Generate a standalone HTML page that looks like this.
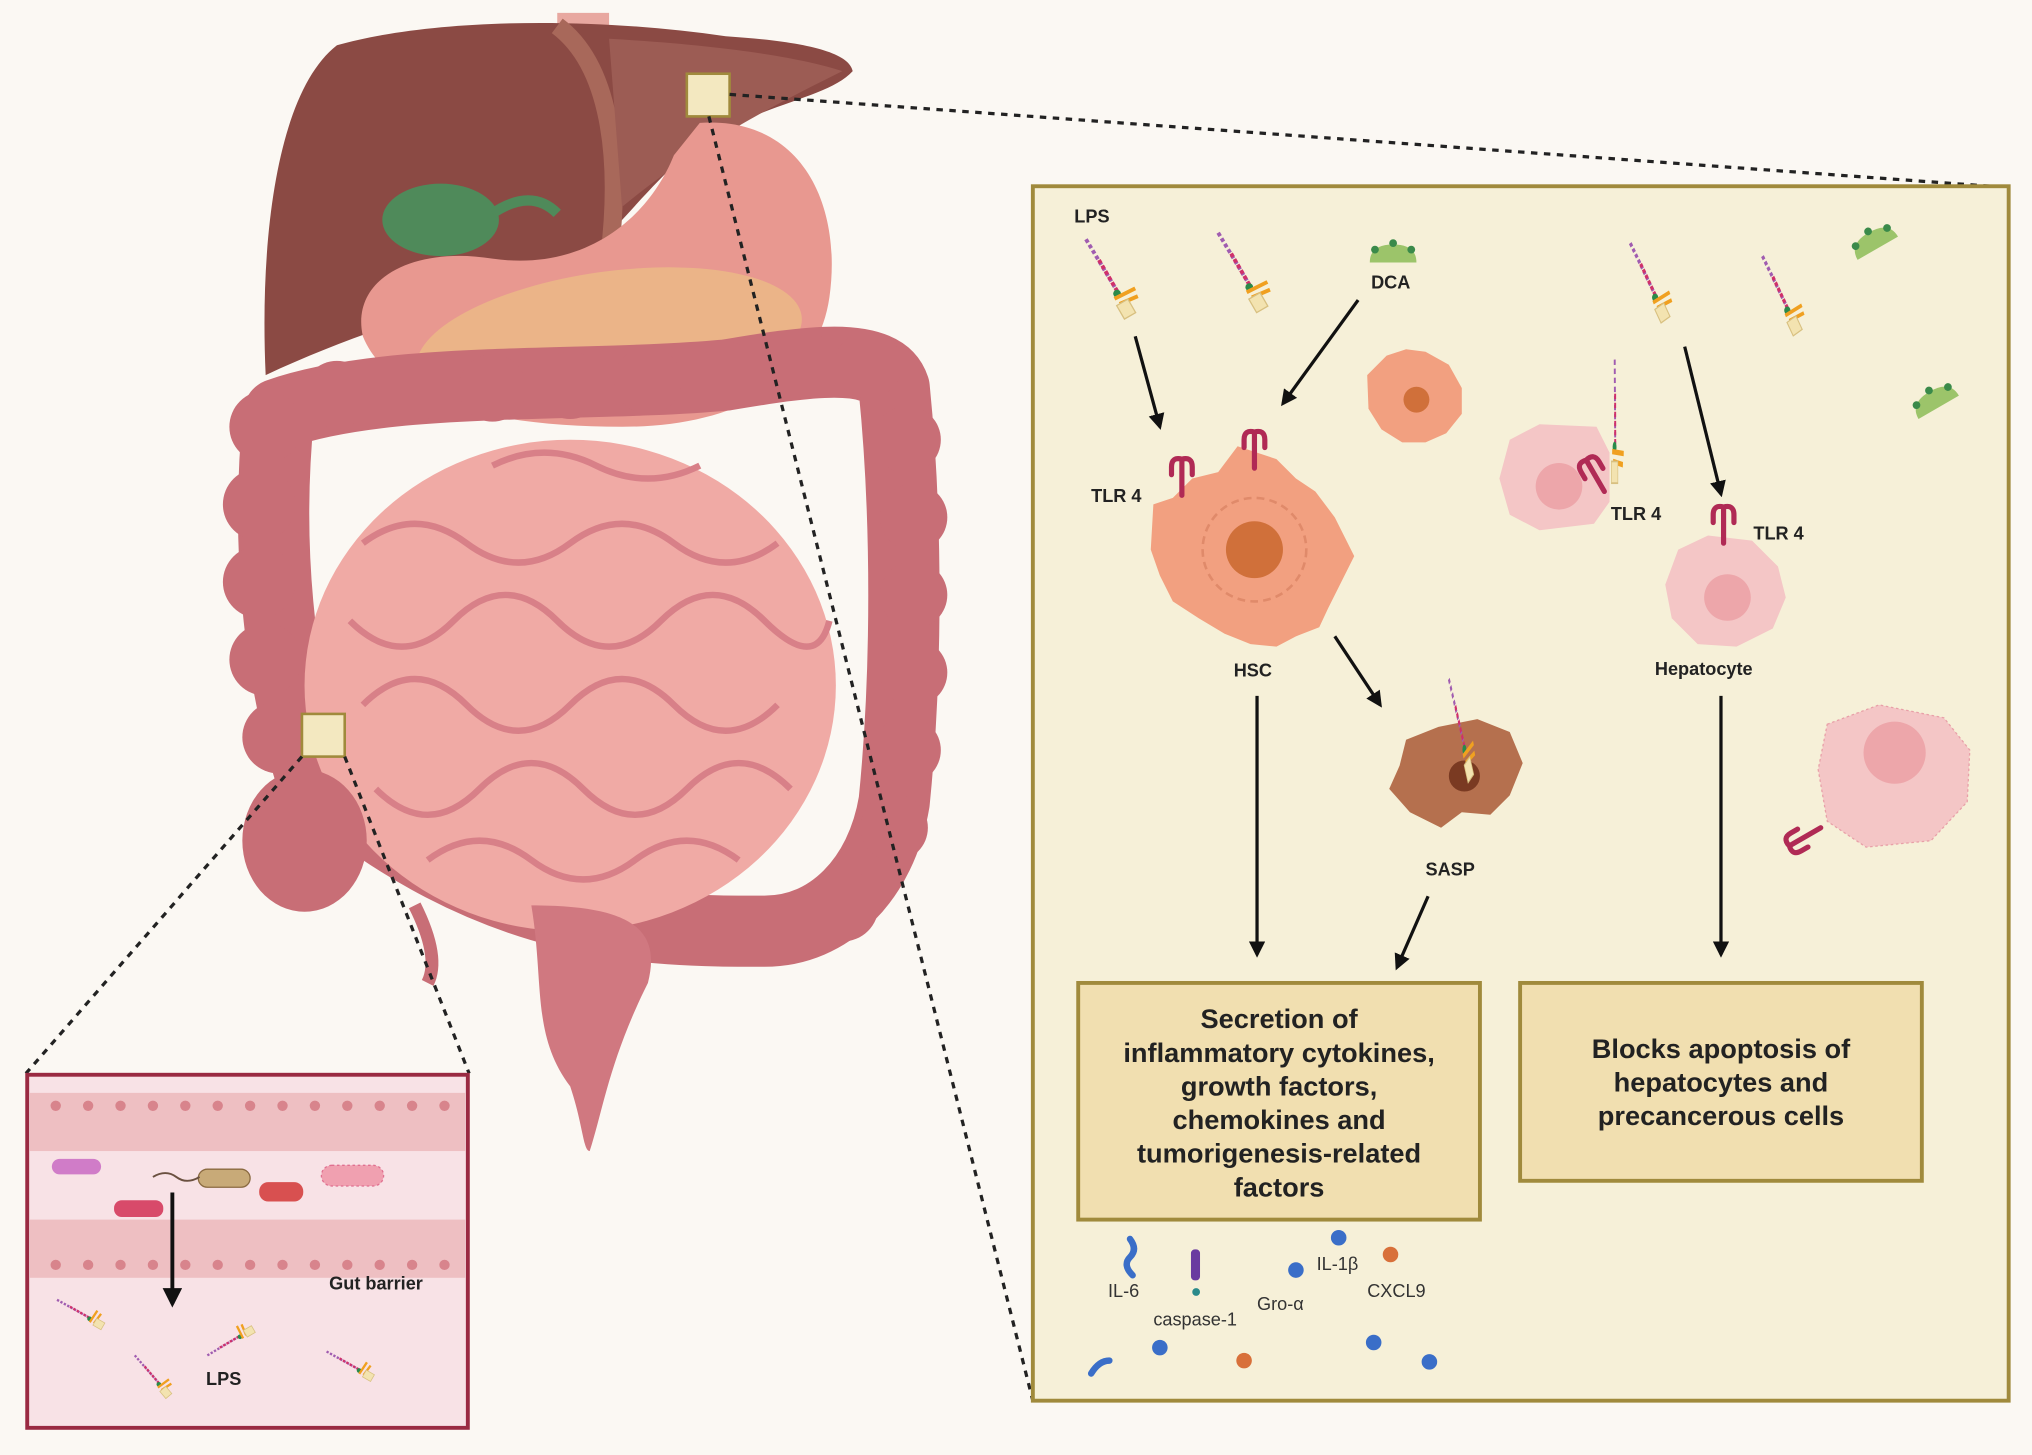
<!DOCTYPE html>
<html><head><meta charset="utf-8"><style>
html,body{margin:0;padding:0;background:#fbf8f3;}
svg{display:block}
text{font-family:"Liberation Sans",sans-serif;}
</style></head><body>
<svg width="2032" height="1455" viewBox="0 0 1568 1125" preserveAspectRatio="none" xmlns="http://www.w3.org/2000/svg">
<defs>
<marker id="ah" viewBox="0 0 10 10" refX="8" refY="5" markerWidth="5" markerHeight="5" orient="auto"><path d="M0,0 L10,5 L0,10 z" fill="#111"/></marker>
<g id="lps"><line x1="0" y1="0" x2="24" y2="40" stroke="#a05cb0" stroke-width="3" stroke-dasharray="3,2"/><line x1="10" y1="16" x2="24" y2="40" stroke="#d0306a" stroke-width="3" stroke-dasharray="3,2"/><circle cx="24" cy="42" r="3" fill="#2a8a4a"/><path d="M22,46 l16,-8 M26,50 l14,-6" stroke="#f0a020" stroke-width="3"/><rect x="26" y="48" width="10" height="12" fill="#f3e3b0" stroke="#d8c080" transform="rotate(-30 31 54)"/></g>
<g id="tlr"><path d="M0,0 v-16 M-8,-22 q0,-8 8,-6 q8,-2 8,6 M-8,-22 v6 M8,-22 v6 M0,-28 v12" stroke="#b02a55" stroke-width="4" fill="none" stroke-linecap="round"/></g>
<g id="dca"><path d="M-18,8 q0,-14 18,-14 q18,0 18,14 z" fill="#9cc46a"/><circle cx="-14" cy="-2" r="3" fill="#3a8a4a"/><circle cx="0" cy="-7" r="3" fill="#3a8a4a"/><circle cx="14" cy="-2" r="3" fill="#3a8a4a"/></g>
</defs>
<rect width="1568" height="1125" fill="#fbf8f3"/>

<!-- anatomy -->
<path d="M430,10 h40 v40 h-40z" fill="#e8a8a0"/>
<path d="M205,290 C200,180 215,70 260,35 C330,15 450,12 560,28 C620,32 655,40 658,55 C640,75 590,80 540,110 C480,160 460,210 400,225 C330,240 270,260 205,290z" fill="#8b4a44"/>
<path d="M430,20 C470,50 480,120 470,200" stroke="#a8685a" stroke-width="14" fill="none"/>
<path d="M470,30 C560,35 620,45 650,55 C600,80 540,110 480,160z" fill="#9c5c54"/>
<ellipse cx="340" cy="170" rx="45" ry="28" fill="#4f8a5a"/>
<path d="M380,165 q30,-20 50,0" stroke="#4f8a5a" stroke-width="8" fill="none"/>
<path d="M540,95 C620,90 650,160 640,230 C630,300 560,330 480,330 C380,330 300,310 280,260 C270,215 320,190 380,200 C450,210 500,170 520,120z" fill="#e89890"/>
<ellipse cx="470" cy="265" rx="150" ry="55" fill="#ebb488" transform="rotate(-8 470 265)"/>
<path d="M240,600 C215,520 205,420 215,320 C300,290 450,300 560,290 C620,280 680,270 690,300 C700,400 700,520 690,620 C680,680 640,720 590,720 C500,720 380,720 240,600z" fill="none" stroke="#c86e76" stroke-width="55" stroke-linejoin="round"/>
<g fill="#c86e76">
<circle cx="205" cy="330" r="28"/><circle cx="200" cy="390" r="28"/><circle cx="200" cy="450" r="28"/><circle cx="205" cy="510" r="28"/><circle cx="215" cy="570" r="28"/>
<circle cx="260" cy="305" r="26"/><circle cx="320" cy="300" r="26"/><circle cx="380" cy="300" r="26"/><circle cx="440" cy="298" r="26"/><circle cx="500" cy="294" r="26"/><circle cx="560" cy="290" r="26"/><circle cx="620" cy="282" r="26"/><circle cx="670" cy="282" r="26"/>
<circle cx="700" cy="340" r="26"/><circle cx="705" cy="400" r="26"/><circle cx="705" cy="460" r="26"/><circle cx="705" cy="520" r="26"/><circle cx="700" cy="580" r="26"/><circle cx="690" cy="640" r="26"/><circle cx="650" cy="700" r="28"/>
</g>
<ellipse cx="440" cy="530" rx="205" ry="190" fill="#f0aaa5"/>
<g stroke="#d88088" stroke-width="5" fill="none">
<path d="M280,420 q40,-30 80,0 t80,0 t80,0 t80,0"/>
<path d="M270,480 q40,40 80,0 t80,0 t80,0 t80,0 t50,0"/>
<path d="M280,545 q40,-40 80,0 t80,0 t80,0 t80,0"/>
<path d="M290,610 q40,40 80,0 t80,0 t80,0 t80,0"/>
<path d="M330,665 q40,-30 80,0 t80,0 t80,0"/>
<path d="M380,360 q40,-20 80,0 t80,0"/>
</g>
<path d="M410,700 C420,760 410,800 440,840 C450,870 450,890 455,890 C465,860 470,820 500,760 C510,720 490,700 410,700z" fill="#d07880"/>
<path d="M320,700 q20,40 10,60" stroke="#c86e76" stroke-width="10" fill="none"/>
<ellipse cx="235" cy="650" rx="48" ry="55" fill="#c86e76"/>

<!-- markers on anatomy -->
<rect x="530" y="57" width="33" height="33" fill="#f3e8c0" stroke="#a08a3c" stroke-width="2"/>
<rect x="233" y="552" width="33" height="33" fill="#f3e8c0" stroke="#a08a3c" stroke-width="2"/>
<g stroke="#222" stroke-width="2.5" stroke-dasharray="5,5" fill="none">
<line x1="563" y1="73" x2="1550" y2="145"/>
<line x1="547" y1="90" x2="797" y2="1083"/>
<line x1="233" y1="585" x2="20" y2="830"/>
<line x1="266" y1="585" x2="362" y2="830"/>
</g>

<!-- left inset -->
<rect x="21" y="831" width="340" height="273" fill="#f8e2e6" stroke="#9a2a42" stroke-width="3"/>
<rect x="23" y="845" width="336" height="45" fill="#eebfc2"/>
<rect x="23" y="943" width="336" height="45" fill="#eebfc2"/>
<g fill="#d8848c">
<circle cx="43" cy="855" r="4"/><circle cx="68" cy="855" r="4"/><circle cx="93" cy="855" r="4"/><circle cx="118" cy="855" r="4"/><circle cx="143" cy="855" r="4"/><circle cx="168" cy="855" r="4"/><circle cx="193" cy="855" r="4"/><circle cx="218" cy="855" r="4"/><circle cx="243" cy="855" r="4"/><circle cx="268" cy="855" r="4"/><circle cx="293" cy="855" r="4"/><circle cx="318" cy="855" r="4"/><circle cx="343" cy="855" r="4"/>
<circle cx="43" cy="978" r="4"/><circle cx="68" cy="978" r="4"/><circle cx="93" cy="978" r="4"/><circle cx="118" cy="978" r="4"/><circle cx="143" cy="978" r="4"/><circle cx="168" cy="978" r="4"/><circle cx="193" cy="978" r="4"/><circle cx="218" cy="978" r="4"/><circle cx="243" cy="978" r="4"/><circle cx="268" cy="978" r="4"/><circle cx="293" cy="978" r="4"/><circle cx="318" cy="978" r="4"/><circle cx="343" cy="978" r="4"/>
</g>
<rect x="40" y="896" width="38" height="12" rx="6" fill="#d07cc8"/>
<rect x="88" y="928" width="38" height="13" rx="6" fill="#d84a6a"/>
<rect x="153" y="904" width="40" height="14" rx="7" fill="#c8aa78" stroke="#8a6a40"/>
<path d="M118,910 q10,-6 18,0 t18,0" stroke="#6a5040" fill="none" stroke-width="1.5"/>
<rect x="200" y="914" width="34" height="15" rx="7" fill="#d85050"/>
<rect x="248" y="901" width="48" height="16" rx="8" fill="#f0a0b0" stroke="#e07090" stroke-dasharray="2,2"/>
<line x1="133" y1="922" x2="133" y2="1008" stroke="#111" stroke-width="3" marker-end="url(#ah)"/>
<text x="254" y="997" font-size="14" font-weight="bold" fill="#222">Gut barrier</text>
<text x="159" y="1071" font-size="14" font-weight="bold" fill="#222">LPS</text>
<g transform="translate(44,1005) rotate(-30) scale(0.6)"><use href="#lps"/></g>
<g transform="translate(104,1048) rotate(-10) scale(0.6)"><use href="#lps"/></g>
<g transform="translate(160,1048) rotate(-90) scale(0.6)"><use href="#lps"/></g>
<g transform="translate(252,1045) rotate(-30) scale(0.6)"><use href="#lps"/></g>

<!-- right panel -->
<rect x="797" y="144" width="753" height="939" fill="#f6f0d8" stroke="#a08a3c" stroke-width="3"/>
<text x="829" y="172" font-size="14" font-weight="bold" fill="#222">LPS</text>
<g transform="translate(838,185)"><use href="#lps"/></g>
<g transform="translate(940,180)"><use href="#lps"/></g>
<g transform="translate(1258,188) scale(0.8,1)"><use href="#lps"/></g>
<g transform="translate(1360,198) scale(0.8,1)"><use href="#lps"/></g>
<g transform="translate(1075,195)"><use href="#dca"/></g>
<text x="1058" y="223" font-size="14" font-weight="bold" fill="#222">DCA</text>
<g transform="translate(1445,185) rotate(-30)"><use href="#dca"/></g>
<g transform="translate(1492,308) rotate(-30)"><use href="#dca"/></g>

<g stroke="#111" stroke-width="2.5" fill="none" marker-end="url(#ah)">
<line x1="876" y1="260" x2="895" y2="330"/>
<line x1="1048" y1="232" x2="990" y2="312"/>
<line x1="1300" y1="268" x2="1328" y2="382"/>
<line x1="1030" y1="492" x2="1065" y2="545"/>
<line x1="970" y1="538" x2="970" y2="738"/>
<line x1="1102" y1="693" x2="1078" y2="748"/>
<line x1="1328" y1="538" x2="1328" y2="738"/>
</g>

<path d="M890,390 L905,385 L920,370 L940,365 L955,345 L985,355 L1000,370 L1015,380 L1030,400 L1045,430 L1035,450 L1025,470 L1018,485 L1000,492 L985,500 L965,498 L945,490 L925,478 L905,465 L895,445 L888,425z" fill="#f2a080"/>
<circle cx="968" cy="425" r="40" fill="none" stroke="#e08a6a" stroke-width="2" stroke-dasharray="6,4"/>
<circle cx="968" cy="425" r="22" fill="#d0703a"/>
<g transform="translate(912,383)"><use href="#tlr"/></g>
<g transform="translate(968,362)"><use href="#tlr"/></g>
<text x="842" y="388" font-size="14" font-weight="bold" fill="#222">TLR 4</text>
<text x="952" y="523" font-size="14" font-weight="bold" fill="#222">HSC</text>
<path d="M1055,290 L1070,275 L1085,270 L1100,272 L1118,282 L1128,300 L1128,320 L1116,335 L1100,342 L1082,342 L1066,332 L1056,316z" fill="#f2a080"/>
<circle cx="1093" cy="309" r="10" fill="#d0703a"/>
<path d="M1165,340 L1188,328 L1232,330 L1242,350 L1242,388 L1230,405 L1188,410 L1165,398 L1157,370z" fill="#f4c6c6"/>
<circle cx="1203" cy="376" r="18" fill="#eda6aa"/>
<g transform="translate(1238,380) rotate(-30)"><use href="#tlr"/></g>
<g transform="translate(1246,278) scale(0.5,1.4) rotate(30)"><use href="#lps"/></g>
<text x="1243" y="402" font-size="14" font-weight="bold" fill="#222">TLR 4</text>
<path d="M1295,425 L1318,414 L1352,418 L1372,438 L1378,462 L1368,486 L1340,500 L1310,498 L1290,478 L1285,452z" fill="#f4c6c6"/>
<circle cx="1333" cy="462" r="18" fill="#eda6aa"/>
<g transform="translate(1330,420)"><use href="#tlr"/></g>
<text x="1353" y="417" font-size="14" font-weight="bold" fill="#222">TLR 4</text>
<text x="1277" y="522" font-size="14" font-weight="bold" fill="#222">Hepatocyte</text>
<path d="M1410,560 L1450,545 L1500,555 L1520,580 L1518,620 L1490,650 L1440,655 L1410,635 L1403,595z" fill="#f4c6c6" stroke="#e8a0a8" stroke-dasharray="2,2"/>
<circle cx="1462" cy="582" r="24" fill="#eda6aa"/>
<g transform="translate(1405,640) rotate(-120)"><use href="#tlr"/></g>
<path d="M1085,572 L1110,562 L1140,556 L1165,566 L1175,590 L1165,615 L1150,630 L1128,628 L1112,640 L1088,628 L1072,610 L1080,592z" fill="#b5704e"/>
<circle cx="1130" cy="600" r="12" fill="#7a3a22"/>
<g transform="translate(1118,525) scale(0.5,1.3)"><use href="#lps"/></g>
<text x="1100" y="677" font-size="14" font-weight="bold" fill="#222">SASP</text>

<rect x="832" y="760" width="310" height="183" fill="#f1dfb0" stroke="#a08a3c" stroke-width="3"/>
<g font-size="21" font-weight="bold" fill="#222" text-anchor="middle">
<text x="987" y="795">Secretion of</text>
<text x="987" y="821">inflammatory cytokines,</text>
<text x="987" y="847">growth factors,</text>
<text x="987" y="873">chemokines and</text>
<text x="987" y="899">tumorigenesis-related</text>
<text x="987" y="925">factors</text>
</g>
<rect x="1173" y="760" width="310" height="153" fill="#f1dfb0" stroke="#a08a3c" stroke-width="3"/>
<g font-size="21" font-weight="bold" fill="#222" text-anchor="middle">
<text x="1328" y="818">Blocks apoptosis of</text>
<text x="1328" y="844">hepatocytes and</text>
<text x="1328" y="870">precancerous cells</text>
</g>

<g font-size="14" fill="#333">
<text x="855" y="1003">IL-6</text>
<text x="890" y="1025">caspase-1</text>
<text x="970" y="1013">Gro-α</text>
<text x="1016" y="982">IL-1β</text>
<text x="1055" y="1003">CXCL9</text>
</g>
<path d="M872,958 q6,8 0,14 t2,14" stroke="#3a6ec8" stroke-width="5" fill="none" stroke-linecap="round"/>
<rect x="919" y="966" width="7" height="24" rx="3" fill="#6a3aa0"/><circle cx="923" cy="999" r="3" fill="#2a8a8a"/>
<circle cx="1000" cy="982" r="6" fill="#3a6ec8"/>
<circle cx="1033" cy="957" r="6" fill="#3a6ec8"/>
<circle cx="1073" cy="970" r="6" fill="#d8703a"/>
<path d="M842,1062 q6,-10 14,-10" stroke="#3a6ec8" stroke-width="5" fill="none" stroke-linecap="round"/>
<circle cx="895" cy="1042" r="6" fill="#3a6ec8"/>
<circle cx="960" cy="1052" r="6" fill="#d8703a"/>
<circle cx="1060" cy="1038" r="6" fill="#3a6ec8"/>
<circle cx="1103" cy="1053" r="6" fill="#3a6ec8"/>
</svg>
</body></html>
